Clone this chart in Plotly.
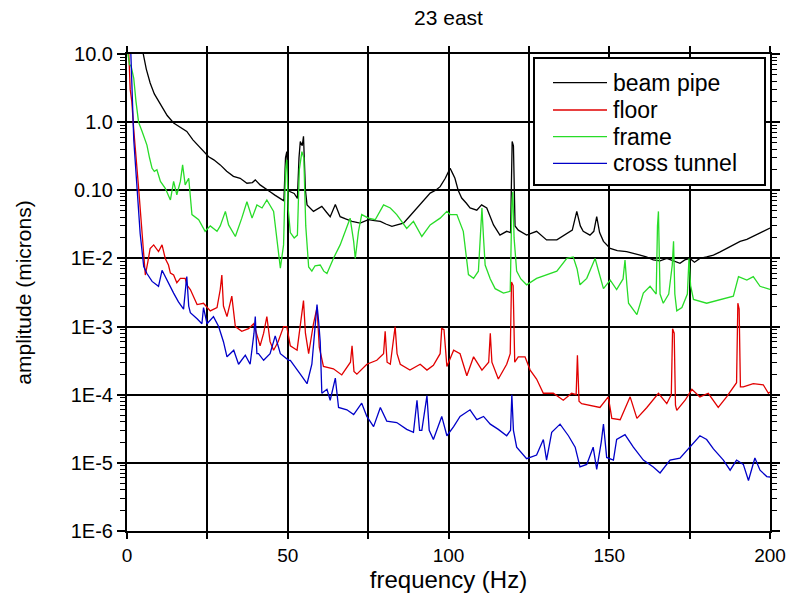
import plotly.graph_objects as go

# ---------------- data ----------------
beam_f = [4.6, 5.1, 6.0, 7.2, 8.5, 10.4, 12.5, 14.5, 16.5, 18.6, 20.5, 22.8, 25.4, 27.0, 29.0, 31.0,
          33.1, 35.2, 37.3, 39.0, 39.9, 41.4, 43.0, 44.5, 46.0, 47.7, 48.8, 49.3, 49.7, 50.2, 50.8,
          52.0, 53.0, 53.5, 53.9, 54.5, 54.9, 55.5, 56.0, 58.0, 60.6, 62.0, 63.2, 64.8, 66.3, 68.0,
          70.0, 72.5, 75.1, 77.0, 78.8, 80.5, 82.4, 84.0, 86.0, 88.0, 90.2, 92.0, 94.3, 96.0, 97.4,
          99.0, 100.5, 101.2, 102.0, 103.0, 104.1, 105.5, 106.7, 108.8, 110.3, 111.9, 113.0, 114.0,
          116.0, 118.1, 119.3, 119.8, 120.2, 120.7, 121.7, 124.3, 127.4, 130.5, 133.7, 136.8, 138.5,
          139.9, 141.0, 141.9, 144.0, 145.2, 146.1, 147.0, 148.2, 150.3, 152.5, 155.4, 157.5, 159.6,
          161.5, 163.7, 165.8, 167.9, 170.0, 172.0, 173.5, 175.1, 176.5, 178.2, 180.3, 182.4, 184.5,
          186.5, 188.5, 190.7, 192.8, 194.8, 197.0, 199.0, 200.0]
beam_v = [12, 9.8, 6.0, 3.75, 2.6, 1.8, 1.25, 0.97, 0.85, 0.73, 0.55, 0.42, 0.31, 0.28, 0.236, 0.19,
          0.16, 0.15, 0.127, 0.13, 0.142, 0.12, 0.105, 0.095, 0.085, 0.076, 0.07, 0.3, 0.37, 0.1, 0.095,
          0.09, 0.076, 0.3, 0.52, 0.45, 0.62, 0.1, 0.061, 0.049, 0.058, 0.048, 0.041, 0.062, 0.041, 0.038,
          0.035, 0.033, 0.037, 0.036, 0.035, 0.032, 0.0295, 0.031, 0.033, 0.042, 0.055, 0.07, 0.091, 0.1, 0.113,
          0.15, 0.21, 0.18, 0.15, 0.1, 0.077, 0.065, 0.055, 0.051, 0.061, 0.055, 0.04, 0.031,
          0.022, 0.025, 0.024, 0.52, 0.45, 0.03, 0.026, 0.022, 0.025, 0.0187, 0.0187, 0.023, 0.026,
          0.049, 0.03, 0.025, 0.022, 0.025, 0.041, 0.024, 0.0178, 0.014, 0.013, 0.0126, 0.012, 0.0112,
          0.0105, 0.0095, 0.0092, 0.0100, 0.0092, 0.0085, 0.0095, 0.010, 0.0088, 0.010, 0.0105, 0.0112, 0.0125,
          0.014, 0.016, 0.0178, 0.019, 0.021, 0.024, 0.026, 0.028]

floor_f = [0.5, 1.0, 1.5, 2.1, 3.6, 4.5, 5.2, 5.7, 6.5, 7.2, 8.3, 9.8, 10.9, 11.9, 12.9, 13.5, 14.5,
           15.5, 16.6, 18.1, 18.6, 19.7, 21.8, 23.8, 25.9, 28.0, 29.0, 29.5, 30.0, 31.1, 32.6, 33.7,
           35.7, 37.8, 39.4, 40.0, 41.4, 42.5, 43.5, 44.5, 45.6, 47.0, 48.7, 49.7, 50.8, 52.9, 54.3,
           54.9, 55.5, 56.5, 58.0, 59.1, 59.8, 61.1, 64.2, 66.8, 69.5, 70.0, 70.6, 71.5, 74.6, 77.7,
           79.8, 80.3, 80.9, 81.9, 83.4, 84.0, 85.0, 88.0, 91.2, 93.3, 95.3, 97.4, 97.9, 98.6, 99.5,
           101.6, 103.6, 105.7, 107.8, 110.4, 112.5, 113.0, 113.5, 115.5, 118.1, 119.2, 119.6, 120.1,
           120.6, 121.7, 123.8, 125.4, 127.4, 129.5, 132.6, 135.7, 138.3, 139.7, 140.1, 140.6, 141.4,
           144.0, 147.1, 149.7, 150.8, 153.4, 156.5, 158.6, 161.7, 165.3, 167.9, 169.3, 169.7, 170.2,
           170.6, 171.0, 173.6, 175.7, 178.2, 180.8, 183.9, 186.5, 188.6, 189.6, 190.0, 190.4, 190.8,
           191.7, 194.8, 197.9, 199.5, 200.0]
floor_v = [12, 3.0, 2.0, 0.77, 0.11, 0.03, 0.0107, 0.0057, 0.009, 0.014, 0.0158, 0.0126, 0.0158, 0.010,
           0.008, 0.0061, 0.0057, 0.0044, 0.0051, 0.0051, 0.0041, 0.0035, 0.0021, 0.0022, 0.0017, 0.0019,
           0.0035, 0.0057, 0.002, 0.0014, 0.0028, 0.001, 0.00085, 0.00093, 0.0011, 0.0009, 0.00052, 0.0008,
           0.0014, 0.0006, 0.00045, 0.0006, 0.001, 0.001, 0.00052, 0.00045, 0.0015, 0.0024, 0.0008, 0.0004,
           0.0011, 0.0019, 0.0005, 0.00026, 0.00024, 0.000195, 0.0003, 0.00052, 0.00022, 0.0002, 0.00028,
           0.00032, 0.0004, 0.00085, 0.0003, 0.00028, 0.001, 0.0004, 0.00028, 0.00023, 0.00028, 0.00023,
           0.00027, 0.0004, 0.00094, 0.0009, 0.00026, 0.00045, 0.0004, 0.00019, 0.00036, 0.00023, 0.0003,
           0.0008, 0.0003, 0.00017, 0.00028, 0.0004, 0.0045, 0.004, 0.0003, 0.00036, 0.00036, 0.00023,
           0.00017, 0.000105, 0.000105, 0.000083, 0.000105, 0.0001, 0.00038, 0.00008, 0.000074, 0.00007,
           0.000065, 0.000093, 0.000045, 0.000043, 0.000093, 0.000045, 0.000065, 0.000105, 0.000074,
           0.0001, 0.00093, 0.0008, 0.00007, 0.000059, 0.000083, 0.00012, 0.000093, 0.000105, 0.000065,
           0.000093, 0.00013, 0.00015, 0.0022, 0.0018, 0.00013, 0.00013, 0.000145, 0.00014, 0.000105, 0.00011]

frame_f = [0.0, 0.8, 1.3, 2.1, 2.8, 3.6, 4.7, 6.2, 7.0, 7.8, 8.5, 9.3, 10.4, 11.9, 13.5, 14.5, 15.5,
           16.6, 17.3, 18.1, 19.2, 20.2, 22.3, 24.3, 25.9, 28.0, 29.0, 30.6, 31.6, 33.7, 35.7, 37.3,
           38.9, 40.4, 42.0, 43.5, 45.6, 46.5, 47.1, 47.7, 48.7, 49.3, 49.7, 50.2, 50.8, 52.0, 53.0,
           53.6, 54.4, 55.0, 55.6, 56.5, 57.5, 58.5, 60.1, 61.2, 62.2, 64.2, 66.3, 67.9, 69.4, 70.5,
           71.0, 72.0, 73.0, 75.1, 77.2, 79.8, 81.9, 83.9, 87.0, 89.1, 91.7, 94.3, 97.4, 99.5, 100.5,
           102.6, 104.6, 106.2, 107.8, 109.3, 110.0, 110.4, 110.9, 111.4, 113.0, 114.5, 117.1, 119.2,
           119.7, 120.0, 120.4, 121.2, 122.5, 124.3, 127.4, 130.5, 133.7, 136.8, 138.8, 140.0, 140.9,
           143.0, 145.6, 146.5, 148.2, 150.3, 152.3, 154.3, 154.9, 155.5, 156.0, 158.6, 160.6, 162.7,
           164.6, 165.0, 165.3, 165.8, 166.8, 168.5, 169.6, 170.0, 170.4, 171.0, 172.6, 174.3, 174.8,
           175.3, 176.2, 180.3, 184.5, 188.6, 190.2, 192.8, 194.8, 196.9, 200.0]
frame_v = [12, 7.0, 6.6, 4.4, 2.0, 1.0, 0.73, 0.46, 0.3, 0.21, 0.19, 0.2, 0.135, 0.107, 0.072, 0.135,
           0.086, 0.135, 0.236, 0.12, 0.15, 0.044, 0.037, 0.025, 0.03, 0.025, 0.03, 0.049, 0.031, 0.021,
           0.039, 0.068, 0.039, 0.061, 0.055, 0.072, 0.049, 0.02, 0.0112, 0.0072, 0.0158, 0.2, 0.28, 0.05,
           0.024, 0.02, 0.022, 0.2, 0.37, 0.3, 0.03, 0.0075, 0.0065, 0.0078, 0.008, 0.0065, 0.006, 0.010,
           0.0158, 0.025, 0.039, 0.0178, 0.010, 0.025, 0.044, 0.039, 0.037, 0.061, 0.055, 0.044, 0.0275,
           0.035, 0.021, 0.031, 0.039, 0.049, 0.044, 0.044, 0.025, 0.0058, 0.0051, 0.0065, 0.03, 0.055,
           0.02, 0.008, 0.005, 0.0036, 0.0031, 0.0033, 0.06, 0.095, 0.02, 0.0065, 0.005, 0.0041, 0.0051,
           0.0058, 0.0065, 0.010, 0.0105, 0.007, 0.0041, 0.0051, 0.010, 0.007, 0.0036, 0.0048, 0.0035,
           0.005, 0.0095, 0.004, 0.0022, 0.0015, 0.0031, 0.0039, 0.003, 0.03, 0.049, 0.003, 0.0022, 0.003,
           0.008, 0.0178, 0.003, 0.0017, 0.0019, 0.003, 0.010, 0.004, 0.0025, 0.0022, 0.0025, 0.0028,
           0.0054, 0.0048, 0.0054, 0.0039, 0.0035]

tunnel_f = [0.8, 1.2, 2.1, 3.1, 4.1, 5.2, 6.2, 7.8, 9.8, 10.9, 12.4, 14.5, 16.0, 17.6, 18.3, 18.6,
            19.2, 19.7, 21.8, 23.3, 23.8, 24.9, 26.9, 28.5, 30.0, 31.1, 33.2, 34.7, 36.8, 38.3, 39.5,
            39.9, 40.4, 40.9, 42.5, 44.5, 46.1, 47.7, 50.3, 50.8, 53.9, 56.0, 57.5, 58.7, 59.1, 59.6,
            60.1, 60.6, 62.2, 63.2, 64.8, 65.8, 68.4, 70.5, 73.0, 74.6, 76.7, 78.8, 80.8, 83.9, 87.0,
            89.1, 90.2, 91.0, 91.7, 93.3, 94.0, 95.3, 97.9, 99.5, 101.6, 103.6, 106.7, 108.8, 110.9,
            113.0, 115.5, 118.1, 119.3, 119.7, 120.2, 121.2, 124.3, 127.4, 129.5, 130.5, 132.1, 134.7,
            137.3, 139.4, 140.9, 143.0, 145.0, 146.1, 147.5, 148.2, 149.2, 151.3, 152.3, 154.9, 157.5,
            160.6, 163.7, 165.8, 168.9, 172.0, 175.1, 178.2, 180.3, 182.4, 185.5, 187.6, 189.6, 191.7,
            193.3, 195.3, 196.9, 199.0, 200.0]
tunnel_v = [12, 10, 0.55, 0.11, 0.023, 0.0076, 0.006, 0.0046, 0.0039, 0.0067, 0.0048, 0.0031, 0.0023,
            0.0018, 0.004, 0.0054, 0.002, 0.0016, 0.0013, 0.0011, 0.0019, 0.0011, 0.0014, 0.001, 0.0006,
            0.00036, 0.00045, 0.00028, 0.00038, 0.00028, 0.0008, 0.0014, 0.0004, 0.0004, 0.00032, 0.0004,
            0.00073, 0.0004, 0.00032, 0.00032, 0.0002, 0.000145, 0.00028, 0.0012, 0.0021, 0.0012, 0.0006,
            0.000105, 0.00012, 0.000083, 0.000175, 0.000065, 0.00006, 0.000051, 0.000075, 0.000048,
            0.000034, 0.000065, 0.000041, 0.000039, 0.000031, 0.000028, 0.000083, 0.00003, 0.00003,
            0.000097, 0.00003, 0.000022, 0.000048, 0.000025, 0.000034, 0.000048, 0.00006, 0.000043,
            0.000048, 0.000037, 0.000031, 0.000025, 0.00003, 0.0001, 0.00003, 0.000017, 0.0000115,
            0.000013, 0.000022, 0.000011, 0.000028, 0.000037, 0.000025, 0.000017, 0.0000087, 0.0000095,
            0.000017, 0.000008, 0.00002, 0.000037, 0.000012, 0.000011, 0.000022, 0.000026, 0.000017,
            0.000011, 0.0000087, 0.0000071, 0.000011, 0.0000117, 0.000017, 0.000025, 0.000022, 0.000016,
            0.000011, 0.0000078, 0.000011, 0.0000095, 0.0000055, 0.0000118, 0.0000078, 0.0000063, 0.0000062]

series_names = ["beam pipe", "floor", "frame", "cross tunnel"]

x_tickvals = [0, 25, 50, 75, 100, 125, 150, 175, 200]
x_ticktext = ["0", "", "50", "", "100", "", "150", "", "200"]
y_tickvals = [1e-6, 1e-5, 1e-4, 1e-3, 1e-2, 1e-1, 1, 10]
y_ticktext = ["1E-6", "1E-5", "1E-4", "1E-3", "1E-2", "0.10", "1.0", "10.0"]

# ---------------- figure ----------------
FONT = "Liberation Sans, Arial, sans-serif"
colors = ["rgb(0,0,0)", "rgb(225,0,0)", "rgb(40,220,40)", "rgb(0,0,200)"]
series = [(beam_f, beam_v), (floor_f, floor_v), (frame_f, frame_v), (tunnel_f, tunnel_v)]

W, H = 788, 600
ML, MR, MT, MB = 127, 18, 54, 69
PW, PH = W - ML - MR, H - MT - MB


def px_to_paper(px, py):
    # screen pixel -> paper coordinate
    return (px - ML) / PW, (H - MB - py) / PH


fig = go.Figure()
for i, (fx, fy) in enumerate(series):
    fig.add_trace(go.Scatter(x=fx, y=fy, mode="lines", name=series_names[i],
                             line=dict(color=colors[i], width=1.3), showlegend=False))

# legend drawn as a box with sample lines and text
shapes = []
annotations = []
bx0, by0 = px_to_paper(534, 185)
bx1, by1 = px_to_paper(765, 58)
shapes.append(dict(type="rect", xref="paper", yref="paper", x0=bx0, y0=by0, x1=bx1, y1=by1,
                   line=dict(color="black", width=2), fillcolor="white", layer="above"))
row_y = [82.7, 110, 136.7, 163.3]
for i, name in enumerate(series_names):
    lx0, ly = px_to_paper(553, row_y[i])
    lx1, _ = px_to_paper(607, row_y[i])
    shapes.append(dict(type="line", xref="paper", yref="paper", x0=lx0, x1=lx1, y0=ly, y1=ly,
                       line=dict(color=colors[i], width=1.3), layer="above"))
    tx, _ = px_to_paper(611, row_y[i])
    annotations.append(dict(text=name, xref="paper", yref="paper", x=tx, y=ly,
                            xanchor="left", yanchor="middle", showarrow=False,
                            font=dict(size=23, family=FONT, color="black")))

fig.update_layout(
    width=W, height=H,
    paper_bgcolor="white", plot_bgcolor="white",
    margin=dict(l=ML, r=MR, t=MT, b=MB, autoexpand=False),
    font=dict(family=FONT, color="black", size=20),
    title=dict(text="23 east", x=0.5, xref="paper", xanchor="center",
               y=1 - 18 / H, yref="container", yanchor="middle",
               font=dict(size=21, family=FONT, color="black")),
    showlegend=False,
    hovermode=False,
    shapes=shapes,
    annotations=annotations,
)
fig.update_xaxes(
    range=[0, 200], tickmode="array", tickvals=x_tickvals, ticktext=x_ticktext,
    showgrid=True, gridcolor="black", gridwidth=1.5,
    showline=True, linecolor="black", linewidth=2, mirror="ticks",
    ticks="outside", ticklen=6, tickwidth=1.5, tickcolor="black",
    zeroline=False, tickfont=dict(size=19), automargin=False,
    title=dict(text="frequency (Hz)", font=dict(size=24), standoff=4),
)
fig.update_yaxes(
    type="log", range=[-6, 1], tickmode="array", tickvals=y_tickvals, ticktext=y_ticktext,
    showgrid=True, gridcolor="black", gridwidth=1.5,
    showline=True, linecolor="black", linewidth=2, mirror="ticks",
    ticks="outside", ticklen=8, tickwidth=1.5, tickcolor="black",
    minor=dict(ticks="outside", ticklen=5, tickwidth=1, tickcolor="black", dtick="D1", showgrid=False),
    zeroline=False, tickfont=dict(size=20), automargin=False,
    title=dict(text="amplitude (microns)", font=dict(size=21), standoff=33),
)

# remove the browser's default 8px page margin so the 788x600 figure fills the window exactly
fig.write_html("out.html",
               config={"displayModeBar": False},
               post_script="document.body.style.margin='0';document.body.style.overflow='hidden';")
